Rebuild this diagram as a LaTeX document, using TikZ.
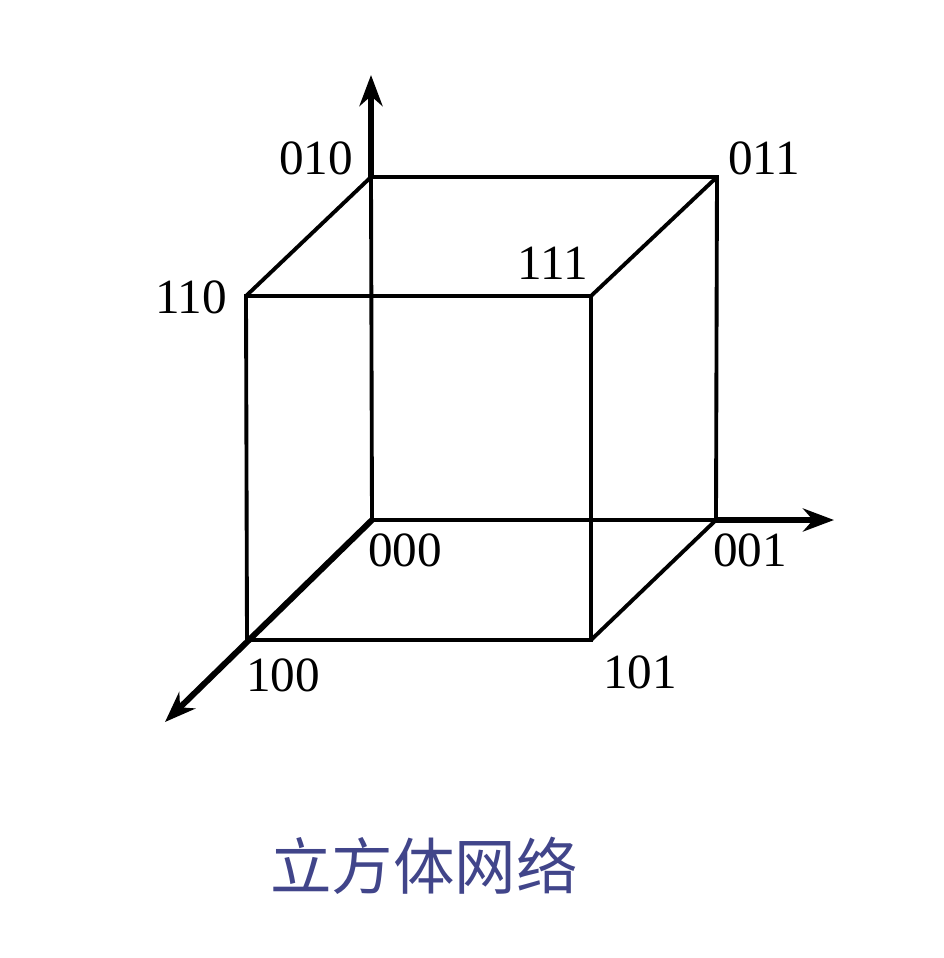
\documentclass[tikz,border=0pt]{standalone}
\usepackage{fontspec}
\setmainfont{Liberation Serif}
\newfontfamily\cjk{Noto Sans CJK SC}
\usetikzlibrary{arrows.meta}
\definecolor{titleblue}{HTML}{41458A}

\begin{document}
\begin{tikzpicture}[x=0.02cm, y=-0.02cm,
    edge/.style={line width=2.2pt},
    axis/.style={line width=3.4pt, -{Stealth[length=0.62cm, width=0.46cm, inset=0.2cm]}},
    lab/.style={font=\fontsize{28}{30}\selectfont, inner sep=0pt}]
    \useasboundingbox (0,0) rectangle (944,958);

    % corners of the cube
    \coordinate (v000) at (372,520);
    \coordinate (v001) at (716,520);
    \coordinate (v010) at (371,177);
    \coordinate (v011) at (717,177);
    \coordinate (v100) at (247,640);
    \coordinate (v101) at (591,640);
    \coordinate (v110) at (246,296);
    \coordinate (v111) at (591,296);
    % ends of the axes
    \coordinate (ytip) at (371,75);
    \coordinate (xtip) at (834,520);
    \coordinate (ztip) at (165,722);

    \draw[edge] (v000) -- (v001) -- (v011) -- (v010) -- cycle;
    \draw[edge] (v100) -- (v101) -- (v111) -- (v110) -- cycle;
    \draw[edge] (v001) -- (v101);
    \draw[edge] (v011) -- (v111);
    \draw[edge] (v010) -- (v110);

    \draw[axis] (v010) -- (ytip);
    \draw[axis] (v001) -- (xtip);
    \draw[axis] (v000) -- (ztip);

    \node[lab] (l010) at (316,158) {010};
    \node[lab] (l011) at (764,158) {011};
    \node[lab] (l110) at (191,297) {110};
    \node[lab] (l111) at (553,263) {111};
    \node[lab] (l000) at (405,550) {000};
    \node[lab] (l001) at (750,550) {001};
    \node[lab] (l100) at (283,675) {100};
    \node[lab] (l101) at (640,672) {101};

    \node[font=\cjk\fontsize{35}{40}\selectfont, text=titleblue] (title) at (424,866) {立方体网络};
\end{tikzpicture}
\end{document}
